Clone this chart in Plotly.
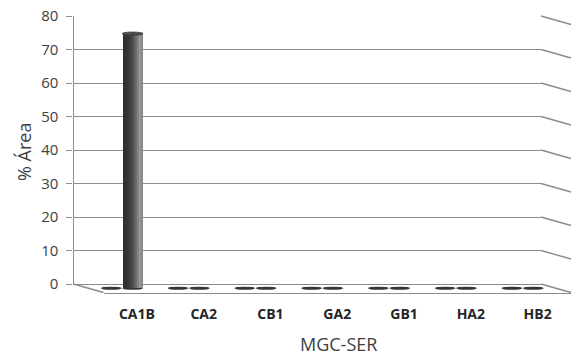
import plotly.graph_objects as go

# ---------------- data ----------------
categories = ["CA1B", "CA2", "CB1", "GA2", "GB1", "HA2", "HB2"]
serie_1 = [0, 0, 0, 0, 0, 0, 0]
serie_2 = [76, 0, 0, 0, 0, 0, 0]
y_ticks = [0, 10, 20, 30, 40, 50, 60, 70, 80]
y_title = "% Área"
x_title = "MGC-SER"

# ---------------- geometry / style ----------------
W, H = 574, 356
BX0, BX1, BY0, BY1 = 73.5, 541.0, 284.0, 16.0   # back wall (px)
DX, DY = 30.0, 8.5                              # depth offset (px)
YMAX = 80
YMIN2 = -4
scale = (BY0 - BY1) / YMAX
GRID = "#8c8c8c"
GW = 1.4
FONT = "Open Sans"
TXT = "#404040"

BAR_W = 0.31
centers = [-0.16, 0.16]
shades = ["#2f2f2f", "#323232", "#373737", "#3e3e3e", "#494949",
          "#585858", "#6c6c6c", "#838383", "#979797", "#8a8a8a"]
N = len(shades)

fig = go.Figure()

# cylinder bodies as vertical shaded strips
for s, vals in enumerate([serie_1, serie_2]):
    left = centers[s] - BAR_W / 2
    for k, col in enumerate(shades):
        fig.add_trace(go.Bar(
            x=categories, y=vals, xaxis="x2", yaxis="y2",
            offset=left + k * BAR_W / N,
            width=BAR_W / N * (1.4 if k < N - 1 else 1.0),
            marker=dict(color=col, line=dict(width=0)),
            showlegend=False, hoverinfo="skip"))

# invisible traces to materialise the back and front planes
fig.add_trace(go.Scatter(x=categories, y=serie_1, xaxis="x", yaxis="y",
                         mode="markers", marker=dict(opacity=0),
                         showlegend=False, hoverinfo="skip"))
fig.add_trace(go.Scatter(x=categories, y=serie_1, xaxis="x3", yaxis="y3",
                         mode="markers", marker=dict(opacity=0),
                         showlegend=False, hoverinfo="skip"))

shapes = []
# right-hand perspective continuation of grid lines
for t in y_ticks:
    shapes.append(dict(type="line", xref="x domain", yref="y domain",
                       x0=1, y0=t / YMAX,
                       x1=1 + DX / (BX1 - BX0), y1=t / YMAX - DY / (BY0 - BY1),
                       line=dict(color=GRID, width=GW), layer="above"))
# left edge of the floor
shapes.append(dict(type="line", xref="x domain", yref="y domain",
                   x0=0, y0=0, x1=DX / (BX1 - BX0), y1=-DY / (BY0 - BY1),
                   line=dict(color=GRID, width=GW), layer="above"))

# cylinder bases / tops
eh = 1.6 / scale
for s, vals in enumerate([serie_1, serie_2]):
    for i, v in enumerate(vals):
        cx = i + centers[s]
        shapes.append(dict(type="circle", xref="x2", yref="y2",
                           x0=cx - BAR_W / 2, x1=cx + BAR_W / 2,
                           y0=-eh, y1=eh,
                           fillcolor="#363636", line=dict(width=0),
                           layer="below"))
        if v > 0:
            shapes.append(dict(type="circle", xref="x2", yref="y2",
                               x0=cx - BAR_W / 2, x1=cx + BAR_W / 2,
                               y0=v - eh, y1=v + eh,
                               fillcolor="#4e4e4e",
                               line=dict(width=0.8, color="#333333"),
                               layer="above"))

back_x = [BX0 / W, BX1 / W]
back_y = [1 - BY0 / H, 1 - BY1 / H]
mid_x = [(BX0 + DX / 2) / W, (BX1 + DX / 2) / W]
mid_y = [1 - (BY0 + DY / 2 - YMIN2 * scale) / H, 1 - (BY1 + DY / 2) / H]
front_x = [(BX0 + DX) / W, min(1.0, (BX1 + DX) / W)]
front_y = [1 - (BY0 + DY) / H, 1 - (BY1 + DY) / H]

fig.update_layout(
    width=W, height=H,
    margin=dict(l=0, r=0, t=0, b=0, autoexpand=False),
    paper_bgcolor="white", plot_bgcolor="rgba(0,0,0,0)",
    barmode="overlay", bargap=0,
    showlegend=False,
    font=dict(family=FONT, color=TXT),
    xaxis=dict(domain=back_x, anchor="y", type="category",
               categoryarray=categories, range=[-0.5, 6.5],
               showticklabels=False, ticks="", showgrid=False,
               zeroline=False, showline=True, linecolor=GRID, linewidth=GW,
               automargin=False),
    yaxis=dict(domain=back_y, anchor="x", range=[0, YMAX],
               tickvals=y_ticks, ticks="outside", ticklen=6,
               tickcolor=GRID, tickwidth=GW,
               showgrid=True, gridcolor=GRID, gridwidth=GW,
               showline=True, linecolor=GRID, linewidth=GW,
               zeroline=False, ticklabelstandoff=5, automargin=False,
               tickfont=dict(family=FONT, size=15, color=TXT)),
    xaxis2=dict(domain=mid_x, anchor="y2", type="category",
                categoryarray=categories, range=[-0.5, 6.5], visible=False,
                automargin=False),
    yaxis2=dict(domain=mid_y, anchor="x2", range=[YMIN2, YMAX], visible=False,
                automargin=False),
    xaxis3=dict(domain=front_x, anchor="y3", type="category",
                categoryarray=categories, range=[-0.5, 6.5],
                ticks="", showgrid=False, zeroline=False,
                showline=True, linecolor=GRID, linewidth=GW,
                ticklabelstandoff=8, automargin=False,
                tickfont=dict(family=FONT, size=14, color="#262626",
                              weight="bold")),
    yaxis3=dict(domain=front_y, anchor="x3", range=[0, 1], visible=False,
                automargin=False),
    shapes=shapes,
    annotations=[
        dict(text=y_title, xref="paper", yref="paper",
             x=24 / W, y=1 - 152 / H, textangle=-90, showarrow=False,
             xanchor="center", yanchor="middle",
             font=dict(family=FONT, size=18, color=TXT)),
        dict(text=x_title, xref="paper", yref="paper",
             x=338 / W, y=1 - 344 / H, showarrow=False,
             xanchor="center", yanchor="middle",
             font=dict(family=FONT, size=18, color=TXT)),
    ],
)

fig.write_html(
    "out.html",
    config={"displayModeBar": False},
    post_script="document.body.style.margin='0';document.body.style.overflow='hidden';",
)
